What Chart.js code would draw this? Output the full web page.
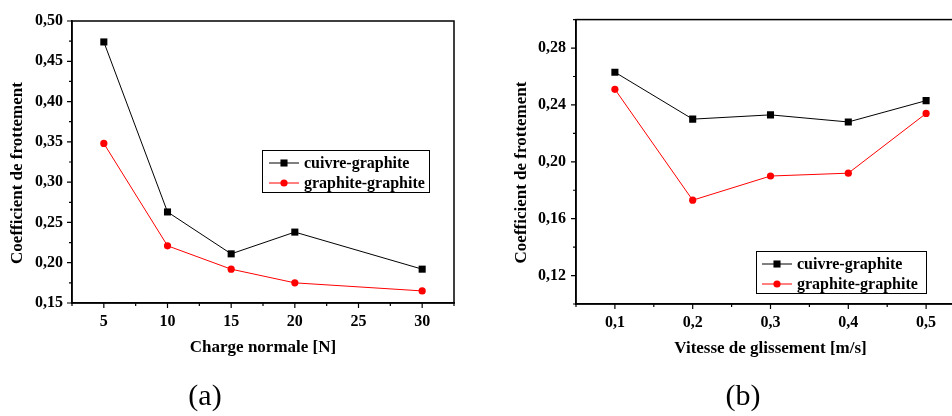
<!DOCTYPE html>
<html>
<head>
<meta charset="utf-8">
<script src="https://cdn.jsdelivr.net/npm/chart.js@4.4.1/dist/chart.umd.min.js"></script>
<style>
html,body{margin:0;padding:0;background:#fff;overflow:hidden;width:952px;height:416px;position:relative;}
#wrapA{position:absolute;left:0;top:0;width:470px;height:416px;}
#wrapB{position:absolute;left:480px;top:0;width:500px;height:416px;}
.cap{position:absolute;top:380px;width:100px;text-align:center;font:30px/30px "Liberation Serif","Times New Roman",serif;color:#000;}
</style>
</head>
<body>
<div id="wrapA"><canvas id="chartA" width="470" height="416"></canvas></div>
<div id="wrapB"><canvas id="chartB" width="500" height="416"></canvas></div>
<div class="cap" style="left:155px">(a)</div>
<div class="cap" style="left:693px">(b)</div>
<script>
// ---------- data ----------
const seriesNames = ['cuivre-graphite', 'graphite-graphite'];

const chargeN = [5, 10, 15, 20, 30];
const cuivreA = [0.474, 0.263, 0.211, 0.238, 0.192];
const graphiteA = [0.348, 0.221, 0.192, 0.175, 0.165];

const vitesse = [0.1, 0.2, 0.3, 0.4, 0.5];
const cuivreB = [0.263, 0.230, 0.233, 0.228, 0.243];
const graphiteB = [0.251, 0.173, 0.190, 0.192, 0.234];

const xTicksA = [5, 10, 15, 20, 25, 30];
const yTicksA = [0.15, 0.20, 0.25, 0.30, 0.35, 0.40, 0.45, 0.50];
const xTicksB = [0.1, 0.2, 0.3, 0.4, 0.5];
const yTicksB = [0.12, 0.16, 0.20, 0.24, 0.28];

const titlesA = {x: 'Charge normale [N]', y: 'Coefficient de frottement'};
const titlesB = {x: 'Vitesse de glissement [m/s]', y: 'Coefficient de frottement'};

// ---------- helpers ----------
const FONT = '"Liberation Serif","Times New Roman",serif';
Chart.defaults.font.family = FONT;
Chart.defaults.color = '#000';

function pts(xs, ys) { return xs.map((x, i) => ({x: x, y: ys[i]})); }
function isIn(list, v) { return list.some(t => Math.abs(t - v) < 1e-7); }
function fmt(v, dec) { return v.toFixed(dec).replace('.', ','); }

const decorPlugin = {
  id: 'decor',
  afterDraw(chart, args, o) {
    const ctx = chart.ctx, a = chart.chartArea;
    const xs = chart.scales.x, ys = chart.scales.y;
    ctx.save();
    // frame
    ctx.strokeStyle = '#000';
    ctx.lineWidth = 1.5;
    ctx.strokeRect(a.left, a.top, a.right - a.left, a.bottom - a.top);
    // ticks
    ctx.lineWidth = 1.2;
    ctx.beginPath();
    xs.ticks.forEach(t => {
      const px = xs.getPixelForValue(t.value);
      const len = isIn(o.xMajor, t.value) ? 5 : 3;
      ctx.moveTo(px, a.bottom); ctx.lineTo(px, a.bottom + len);
    });
    ys.ticks.forEach(t => {
      const py = ys.getPixelForValue(t.value);
      const len = isIn(o.yMajor, t.value) ? 5 : 3;
      ctx.moveTo(a.left, py); ctx.lineTo(a.left - len, py);
    });
    ctx.stroke();
    // y title
    ctx.font = 'bold 17px ' + FONT;
    ctx.fillStyle = '#000';
    ctx.textAlign = 'center';
    ctx.textBaseline = 'middle';
    ctx.translate(o.yTitle.x, o.yTitle.y);
    ctx.rotate(-Math.PI / 2);
    ctx.fillText(o.yTitle.text, 0, 0);
    ctx.setTransform(1, 0, 0, 1, 0, 0);
    // legend
    const L = o.legend;
    ctx.lineWidth = 1;
    ctx.strokeStyle = '#000';
    ctx.strokeRect(L.box[0] + 0.5, L.box[1] + 0.5, L.box[2] - L.box[0], L.box[3] - L.box[1]);
    ctx.font = 'bold 16px ' + FONT;
    ctx.textAlign = 'left';
    chart.data.datasets.forEach((ds, i) => {
      const y = L.rows[i];
      ctx.strokeStyle = ds.borderColor;
      ctx.lineWidth = ds.borderWidth;
      ctx.beginPath(); ctx.moveTo(L.line[0], y); ctx.lineTo(L.line[1], y); ctx.stroke();
      const mx = (L.line[0] + L.line[1]) / 2;
      ctx.fillStyle = ds.pointBackgroundColor;
      if (ds.pointStyle === 'rect') {
        const s = ds.pointRadius * Math.SQRT1_2;
        ctx.fillRect(mx - s, y - s, 2 * s, 2 * s);
      } else {
        ctx.beginPath(); ctx.arc(mx, y, ds.pointRadius, 0, 2 * Math.PI); ctx.fill();
      }
      ctx.fillStyle = '#000';
      ctx.fillText(ds.label, L.textX, y + 1);
    });
    ctx.restore();
  }
};

function makeChart(id, cfg) {
  return new Chart(document.getElementById(id), {
    type: 'line',
    data: {
      datasets: [
        {label: seriesNames[0], data: pts(cfg.x, cfg.s1), borderColor: '#000', backgroundColor: '#000',
         pointBackgroundColor: '#000', pointBorderColor: '#000', borderWidth: 1, pointStyle: 'rect',
         pointRadius: 5, pointBorderWidth: 0, tension: 0},
        {label: seriesNames[1], data: pts(cfg.x, cfg.s2), borderColor: '#ff0000', backgroundColor: '#ff0000',
         pointBackgroundColor: '#ff0000', pointBorderColor: '#ff0000', borderWidth: 1, pointStyle: 'circle',
         pointRadius: 3.6, pointBorderWidth: 0, tension: 0}
      ]
    },
    options: {
      responsive: false,
      animation: false,
      layout: {padding: cfg.pad},
      plugins: {
        legend: {display: false},
        tooltip: {enabled: false},
        decor: {xMajor: cfg.xMajor, yMajor: cfg.yMajor, yTitle: cfg.yTitle, legend: cfg.legend}
      },
      scales: {
        x: {
          type: 'linear', min: cfg.xMin, max: cfg.xMax,
          afterFit: s => { s.height = cfg.xAxisH; },
          grid: {display: true, drawOnChartArea: false, drawTicks: false},
          border: {display: true, color: '#000', width: 1.5},
          ticks: {stepSize: cfg.xStep, padding: 9, autoSkip: false, maxRotation: 0,
                  font: {size: 16, weight: 'bold'}, color: '#000',
                  callback: v => isIn(cfg.xMajor, v) ? fmt(v, cfg.xDec) : ''},
          title: {display: true, text: cfg.xTitle, font: {size: 17, weight: 'bold'}, color: '#000',
                  padding: {top: 0, bottom: cfg.xTitlePad}}
        },
        y: {
          type: 'linear', min: cfg.yMin, max: cfg.yMax,
          afterFit: s => { s.width = cfg.yAxisW; },
          grid: {display: true, drawOnChartArea: false, drawTicks: false},
          border: {display: true, color: '#000', width: 1.5},
          ticks: {stepSize: cfg.yStep, padding: cfg.yPad, autoSkip: false,
                  font: {size: 16, weight: 'bold'}, color: '#000',
                  callback: v => isIn(cfg.yMajor, v) ? fmt(v, 2) : ''}
        }
      }
    },
    plugins: [decorPlugin]
  });
}

makeChart('chartA', {
  x: chargeN, s1: cuivreA, s2: graphiteA,
  xMin: 2.5, xMax: 32.5, xStep: 2.5, xMajor: xTicksA, xDec: 0,
  yMin: 0.15, yMax: 0.50, yStep: 0.025, yMajor: yTicksA,
  pad: {top: 21, right: 16, left: 0, bottom: 0},
  xAxisH: 113, yAxisW: 72, yPad: 9, xTitlePad: 58,
  xTitle: titlesA.x,
  yTitle: {text: titlesA.y, x: 18, y: 173},
  legend: {box: [262, 150, 429, 192], line: [269, 299], textX: 304, rows: [163, 183]}
});

makeChart('chartB', {
  x: vitesse, s1: cuivreB, s2: graphiteB,
  xMin: 0.05, xMax: 0.55, xStep: 0.05, xMajor: xTicksB, xDec: 1,
  yMin: 0.10, yMax: 0.30, yStep: 0.02, yMajor: yTicksB,
  pad: {top: 17, right: 15, left: 0, bottom: 0},
  xAxisH: 112, yAxisW: 96, yPad: 10, xTitlePad: 57,
  xTitle: titlesB.x,
  yTitle: {text: titlesB.y, x: 42, y: 172.5},
  legend: {box: [276, 251, 446, 293], line: [282, 312], textX: 317, rows: [264, 284]}
});
</script>
</body>
</html>
